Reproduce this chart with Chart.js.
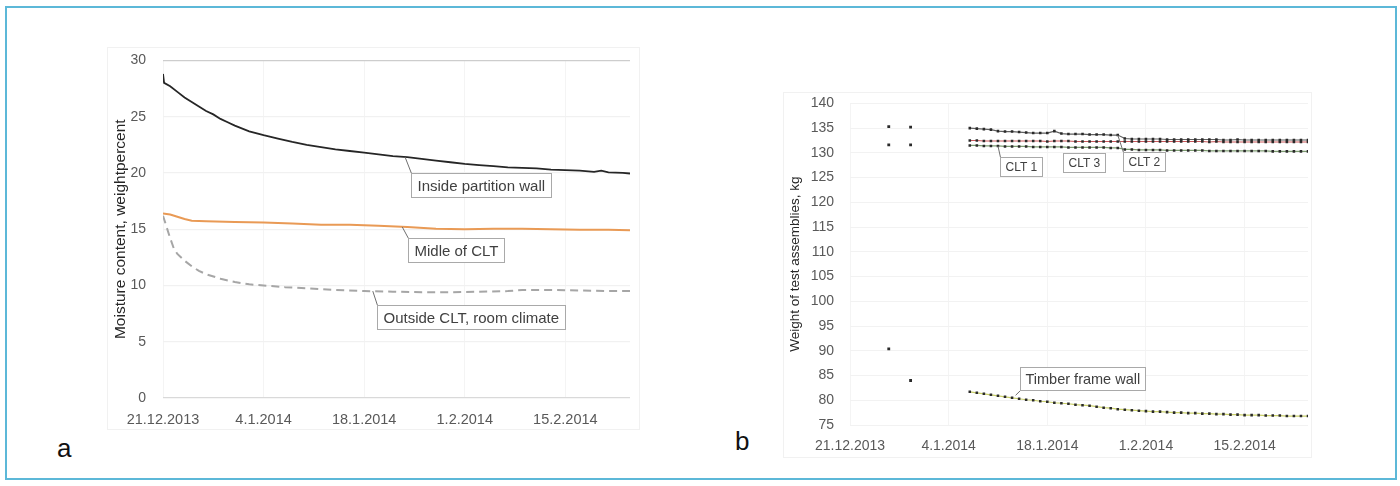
<!DOCTYPE html>
<html>
<head>
<meta charset="utf-8">
<script src="https://cdn.jsdelivr.net/npm/chart.js@4.4.1/dist/chart.umd.min.js"></script>
<style>
  body { margin: 0; background: #fff; width: 1400px; height: 486px; position: relative; overflow: hidden; }
  #frame { position: absolute; left: 5px; top: 6px; width: 1392px; height: 474px; border: 2px solid #5cb8d8; box-sizing: border-box; }
  .panel { position: absolute; background: #fff; border: 1px solid #f1f1f1; box-sizing: border-box; }
  canvas { position: absolute; }
  #pa { left: 107px; top: 47px; width: 533px; height: 383px; }
  #pb { left: 783px; top: 92px; width: 529px; height: 366px; }
  #chartA { left: 107px; top: 35px; }
  #chartB { left: 783px; top: 79px; }
  .tag { position: absolute; font: 26px "Liberation Sans", Arial, sans-serif; color: #111; }
</style>
</head>
<body>
<div id="frame"></div>
<div class="panel" id="pa"></div>
<div class="panel" id="pb"></div>
<canvas id="chartA" width="533" height="395"></canvas>
<canvas id="chartB" width="529" height="379"></canvas>
<div class="tag" style="left:57px;top:433px;">a</div>
<div class="tag" style="left:735px;top:426px;">b</div>

<script>
// day 0 = 21.12.2013
const xTickDays = [0, 14, 28, 42, 56];
const xTickLabels = ['21.12.2013', '4.1.2014', '18.1.2014', '1.2.2014', '15.2.2014'];

// --- chart a: moisture content, weightpercent ---
const insideDays = [0, 0.15, 1, 2, 3, 4, 5, 6, 7, 8, 9, 10, 12, 14, 16, 18, 20, 22, 24, 26, 28, 30, 32, 34, 36, 38, 40, 42, 44, 46, 48, 50, 52, 54, 56, 58, 60, 61, 62, 64, 65];
const insideWall = [28.8, 28.0, 27.7, 27.2, 26.7, 26.3, 25.9, 25.5, 25.2, 24.8, 24.5, 24.2, 23.7, 23.35, 23.05, 22.75, 22.5, 22.3, 22.1, 21.95, 21.8, 21.65, 21.5, 21.4, 21.25, 21.1, 20.95, 20.8, 20.7, 20.6, 20.5, 20.45, 20.4, 20.3, 20.25, 20.2, 20.1, 20.2, 20.05, 20.0, 19.95];

const middleDays = [0, 1, 2, 3, 4, 6, 10, 14, 18, 22, 26, 30, 34, 38, 42, 46, 50, 54, 58, 62, 65];
const middleClt = [16.4, 16.3, 16.1, 15.9, 15.75, 15.7, 15.65, 15.6, 15.5, 15.4, 15.4, 15.3, 15.2, 15.05, 15.0, 15.05, 15.05, 15.0, 14.95, 14.95, 14.9];

const outsideDays = [0, 0.5, 1, 1.5, 2, 3, 4, 5, 6, 8, 10, 12, 14, 17, 20, 24, 28, 32, 36, 40, 44, 48, 50, 54, 58, 62, 65];
const outsideClt = [16.2, 15.2, 14.2, 13.3, 12.8, 12.2, 11.7, 11.3, 11.0, 10.6, 10.3, 10.1, 10.0, 9.85, 9.75, 9.6, 9.5, 9.45, 9.4, 9.4, 9.45, 9.5, 9.6, 9.6, 9.55, 9.5, 9.5];

// --- chart b: weight of test assemblies, kg ---
const earlyDays = [5.5, 8.6];
const earlyCltHigh = [135.3, 135.2];
const earlyCltLow = [131.6, 131.6];
const earlyTimber = [90.4, 84.0];

const weighDays = [17, 18, 19, 20, 21, 22, 23, 24, 25, 26, 27, 28, 29, 30, 31, 32, 33, 34, 35, 36, 37, 38, 39, 40, 41,
  42, 43, 44, 45, 46, 47, 48, 49, 50, 51, 52, 53, 54, 55, 56, 57, 58, 59, 60, 61, 62, 63, 64, 65];
const clt2 = [135.0, 134.9, 134.8, 134.7, 134.4, 134.3, 134.3, 134.2, 134.1, 134.0, 134.0, 134.0, 134.4, 133.9, 133.8, 133.8, 133.8, 133.7, 133.7, 133.7, 133.6, 133.6, 132.9, 132.8, 132.8,
  132.8, 132.8, 132.8, 132.7, 132.7, 132.7, 132.7, 132.7, 132.7, 132.7, 132.7, 132.6, 132.6, 132.7, 132.6, 132.6, 132.6, 132.6, 132.6, 132.6, 132.6, 132.6, 132.6, 132.6];
const clt3 = [132.5, 132.5, 132.4, 132.4, 132.4, 132.4, 132.4, 132.4, 132.4, 132.4, 132.4, 132.3, 132.4, 132.4, 132.4, 132.3, 132.3, 132.3, 132.3, 132.3, 132.3, 132.3, 132.3, 132.3, 132.3,
  132.3, 132.3, 132.3, 132.3, 132.3, 132.3, 132.3, 132.3, 132.3, 132.2, 132.3, 132.2, 132.2, 132.2, 132.2, 132.2, 132.2, 132.2, 132.2, 132.2, 132.2, 132.2, 132.2, 132.2];
const clt1 = [131.5, 131.5, 131.4, 131.4, 131.4, 131.3, 131.3, 131.3, 131.3, 131.2, 131.2, 131.2, 131.2, 131.2, 131.1, 131.1, 131.1, 131.1, 131.1, 131.1, 131.0, 131.0, 130.7, 130.7, 130.6,
  130.6, 130.6, 130.6, 130.5, 130.5, 130.5, 130.5, 130.5, 130.5, 130.4, 130.4, 130.4, 130.4, 130.4, 130.4, 130.4, 130.4, 130.4, 130.3, 130.3, 130.3, 130.3, 130.3, 130.3];
const timberWall = [81.7, 81.5, 81.3, 81.1, 80.9, 80.7, 80.5, 80.3, 80.1, 80.0, 79.8, 79.7, 79.5, 79.4, 79.3, 79.1, 79.0, 78.9, 78.7, 78.5, 78.4, 78.2, 78.1, 78.0, 77.9,
  77.8, 77.7, 77.7, 77.6, 77.5, 77.5, 77.4, 77.4, 77.3, 77.3, 77.2, 77.2, 77.1, 77.1, 77.0, 77.0, 77.0, 76.9, 76.9, 76.9, 76.8, 76.8, 76.8, 76.8];

const FONT = '"Liberation Sans", Arial, sans-serif';
const pts = (xs, ys) => xs.map((d, i) => ({ x: d, y: ys[i] }));

// callout boxes with leader lines, placed in data coordinates
const callouts = {
  id: 'callouts',
  afterDatasetsDraw(chart, args, opts) {
    const { ctx, scales: { x, y } } = chart;
    ctx.save();
    ctx.textBaseline = 'middle';
    opts.items.forEach(c => {
      const size = c.size || opts.size;
      const h = c.height || opts.height;
      ctx.font = size + 'px ' + FONT;
      const bx = Math.round(x.getPixelForValue(c.box[0])) + 0.5;
      const by = Math.round(y.getPixelForValue(c.box[1])) + 0.5;
      const w = Math.round(ctx.measureText(c.text).width + opts.padX * 2);
      if (c.at) {
        const ax = x.getPixelForValue(c.at[0]), ay = y.getPixelForValue(c.at[1]);
        ctx.strokeStyle = '#6f6f6f';
        ctx.lineWidth = 1;
        ctx.beginPath();
        ctx.moveTo(ax, ay);
        ctx.lineTo(bx, ay < by ? by : by + h);
        ctx.stroke();
      }
      ctx.fillStyle = '#fff';
      ctx.fillRect(bx, by, w, h);
      ctx.strokeStyle = '#a9a9a9';
      ctx.strokeRect(bx, by, w, h);
      ctx.fillStyle = '#404040';
      ctx.fillText(c.text, bx + opts.padX, by + h / 2 + 1);
    });
    ctx.restore();
  }
};

function dateAxis(max, pad, height, size) {
  return {
    type: 'linear', min: 0, max: max,
    afterBuildTicks: s => { s.ticks = xTickDays.map(v => ({ value: v })); },
    afterFit: s => { s.height = height; },
    ticks: { padding: pad, color: '#595959', font: { family: FONT, size: size }, maxRotation: 0,
      callback: v => xTickLabels[xTickDays.indexOf(v)] },
    grid: { color: '#f4f4f4', drawTicks: false },
    border: { display: false }
  };
}

new Chart(document.getElementById('chartA'), {
  type: 'line',
  data: {
    datasets: [
      { label: 'Inside partition wall', data: pts(insideDays, insideWall), borderColor: '#262626', borderWidth: 1.8, pointRadius: 0 },
      { label: 'Midle of CLT', data: pts(middleDays, middleClt), borderColor: '#e99a55', borderWidth: 2, pointRadius: 0 },
      { label: 'Outside CLT, room climate', data: pts(outsideDays, outsideClt), borderColor: '#a6a6a6', borderWidth: 2, borderDash: [8, 5], pointRadius: 0 }
    ]
  },
  options: {
    responsive: false, animation: false,
    layout: { padding: { left: 0, top: 13, right: 10, bottom: 0 } },
    plugins: {
      legend: { display: false }, tooltip: { enabled: false },
      callouts: {
        size: 15, padX: 6, height: 24,
        items: [
          { text: 'Inside partition wall', at: [33.7, 21.4], box: [34.5, 20.0] },
          { text: 'Midle of CLT', at: [33.3, 15.2], box: [34.1, 14.25] },
          { text: 'Outside CLT, room climate', at: [29.2, 9.5], box: [29.8, 8.3] }
        ]
      }
    },
    scales: {
      x: dateAxis(65, 13, 32, 14.5),
      y: {
        min: 0, max: 30,
        afterFit: s => { s.width = 56; },
        ticks: { stepSize: 5, padding: 17, color: '#595959', font: { family: FONT, size: 14 } },
        grid: { drawTicks: false, lineWidth: 1.2,
          color: c => c.tick.value === 30 ? '#cdcdcd' : (c.tick.value === 0 ? '#d9d9d9' : '#f1f1f1') },
        border: { display: false },
        title: { display: true, text: 'Moisture content, weightpercent', color: '#262626', font: { family: FONT, size: 15.5 } }
      }
    }
  },
  plugins: [callouts]
});

const marker = { pointStyle: 'rect', pointRadius: 1.8, pointBackgroundColor: '#2a2a2a', pointBorderWidth: 0 };

new Chart(document.getElementById('chartB'), {
  type: 'line',
  data: {
    datasets: [
      Object.assign({ label: 'CLT 2', data: pts(weighDays, clt2), borderColor: '#5f5f5f', borderWidth: 1.2 }, marker),
      Object.assign({ label: 'CLT 3', data: pts(weighDays, clt3), borderColor: '#c9585a', borderWidth: 1.2 }, marker),
      Object.assign({ label: 'CLT 1', data: pts(weighDays, clt1), borderColor: '#7c9a70', borderWidth: 1.2 }, marker),
      Object.assign({ label: 'Timber frame wall', data: pts(weighDays, timberWall), borderColor: '#c9cf6a', borderWidth: 1.2 }, marker),
      Object.assign({ label: 'early CLT', data: pts(earlyDays, earlyCltHigh).concat(pts(earlyDays, earlyCltLow)), showLine: false }, marker, { pointRadius: 2 }),
      Object.assign({ label: 'early timber', data: pts(earlyDays, earlyTimber), showLine: false }, marker, { pointRadius: 2 })
    ]
  },
  options: {
    responsive: false, animation: false,
    layout: { padding: { left: 0, top: 11, right: 4, bottom: 0 } },
    plugins: {
      legend: { display: false }, tooltip: { enabled: false },
      callouts: {
        size: 12, padX: 5, height: 19,
        items: [
          { text: 'CLT 1', at: [21.0, 131.4], box: [21.3, 129.2] },
          { text: 'CLT 3', box: [30.2, 130.0] },
          { text: 'CLT 2', at: [38.0, 133.6], box: [38.7, 130.2] },
          { text: 'Timber frame wall', at: [23.5, 81.0], box: [24.1, 86.7], size: 14.5, height: 23 }
        ]
      }
    },
    scales: {
      x: dateAxis(65, 13, 33, 14),
      y: {
        min: 75, max: 140,
        afterFit: s => { s.width = 67; },
        ticks: { stepSize: 5, padding: 16, color: '#595959', font: { family: FONT, size: 14 } },
        grid: { drawTicks: false, color: '#f2f2f2' },
        border: { display: false },
        title: { display: true, text: 'Weight of test assemblies, kg', color: '#262626', font: { family: FONT, size: 13.5 } }
      }
    }
  },
  plugins: [callouts]
});
</script>
</body>
</html>
